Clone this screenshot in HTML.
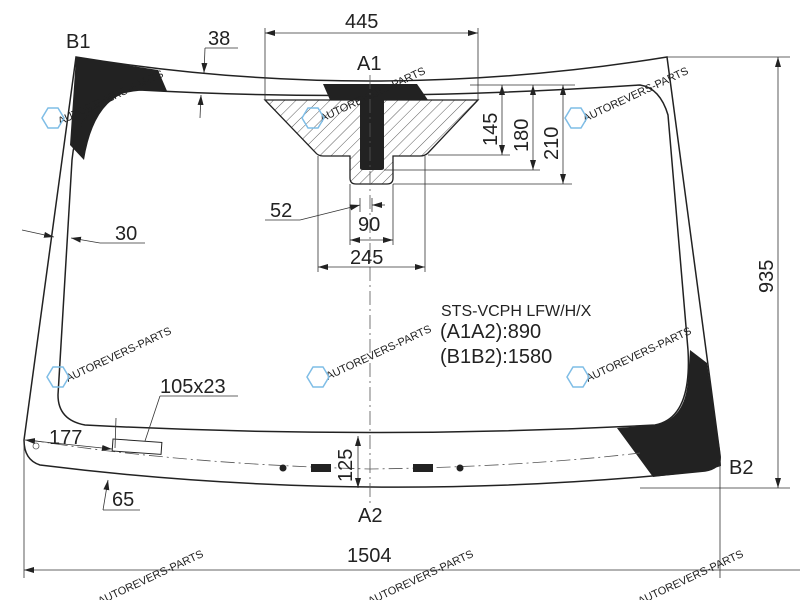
<!DOCTYPE html>
<html><head><meta charset="utf-8"><style>
html,body{margin:0;padding:0;background:#fff;width:800px;height:600px;overflow:hidden}
svg{display:block}
text{font-family:"Liberation Sans",sans-serif;fill:#222}
.wm{fill:#7fbde6;font-size:11px}
</style></head><body>
<svg width="800" height="600" viewBox="0 0 800 600" xmlns="http://www.w3.org/2000/svg">
<defs>
<pattern id="h" width="8" height="8" patternUnits="userSpaceOnUse" patternTransform="rotate(45)">
<line x1="0" y1="0" x2="0" y2="8" stroke="#333" stroke-width="0.8"/></pattern>
<marker id="a" markerWidth="10" markerHeight="6" refX="10" refY="3" orient="auto-start-reverse" markerUnits="userSpaceOnUse"><path d="M0,0 L10,3 L0,6 Z" fill="#222"/></marker>
</defs>
<g fill="none" stroke="#222" stroke-width="1.5">
<path d="M76,57 Q370,105 667,57 L720,455 Q722,468 705,471 Q370,506 40,465 Q24,460 24,440 Z" fill="#fff"/>
</g>
<path d="M76,57 L158,70 L167,91 L140,90 Q95,92 84,160 L70,145 Z" fill="#222"/>
<path d="M690,350 L707,363 L720,450 L721,466 L705,471 L653,477 L617,428 L655,425 Q685,420 688,380 Z" fill="#222"/>
<path d="M265,100 L478,100 L428,153 Q425,156 420,156 L393,156 L393,178 Q393,184 387,184 L356,184 Q350,184 350,178 L350,156 L323,156 Q318,156 315,152 Z" fill="url(#h)" stroke="#222" stroke-width="1.3"/>
<path d="M323,84 L417,84 L428,100 L384,100 L384,168 Q384,170 381,170 L363,170 Q360,170 360,168 L360,100 L330,100 Z" fill="#222"/>
<g fill="none" stroke="#222" stroke-width="1.5">
<path d="M140,90 Q370,103 640,85 Q660,88 668,115 L688,350 Q692,418 655,425 Q370,440 85,425 Q58,420 58,395 L72,160 Q78,95 140,90"/>
</g>
<path d="M30,440 Q180,464 370,469 Q520,467 640,453" fill="none" stroke="#555" stroke-width="0.8" stroke-dasharray="14,4,2,4"/>
<circle cx="36" cy="446" r="3" fill="#fff" stroke="#555" stroke-width="0.8"/>
<circle cx="283" cy="468" r="3.5" fill="#222"/><circle cx="460" cy="468" r="3.5" fill="#222"/>
<rect x="311" y="464" width="20" height="8" fill="#222"/><rect x="413" y="464" width="20" height="8" fill="#222"/>
<rect x="113" y="439" width="49" height="12" fill="#fff" stroke="#222" stroke-width="1" transform="rotate(4 113 439)"/>
<line x1="370" y1="75" x2="370" y2="505" stroke="#555" stroke-width="0.8" stroke-dasharray="14,4,2,4"/>
<g stroke="#333" stroke-width="0.8" fill="none">
<line x1="265" y1="28" x2="265" y2="100"/><line x1="478" y1="28" x2="478" y2="100"/>
<line x1="265" y1="33" x2="478" y2="33" marker-start="url(#a)" marker-end="url(#a)"/>
<line x1="470" y1="85" x2="575" y2="85"/>
<line x1="428" y1="155" x2="510" y2="155"/><line x1="384" y1="170" x2="540" y2="170"/><line x1="393" y1="184" x2="572" y2="184"/>
<line x1="502" y1="85" x2="502" y2="155" marker-start="url(#a)" marker-end="url(#a)"/>
<line x1="533" y1="85" x2="533" y2="170" marker-start="url(#a)" marker-end="url(#a)"/>
<line x1="563" y1="85" x2="563" y2="184" marker-start="url(#a)" marker-end="url(#a)"/>
<line x1="318" y1="156" x2="318" y2="272"/><line x1="425" y1="156" x2="425" y2="272"/>
<line x1="350" y1="184" x2="350" y2="245"/><line x1="393" y1="184" x2="393" y2="245"/>
<line x1="360" y1="198" x2="360" y2="212"/><line x1="372" y1="198" x2="372" y2="212"/>
<line x1="265" y1="220" x2="300" y2="220"/><line x1="300" y1="220" x2="360" y2="205" marker-end="url(#a)"/>
<line x1="385" y1="205" x2="372" y2="205" marker-end="url(#a)"/>
<line x1="350" y1="240" x2="393" y2="240" marker-start="url(#a)" marker-end="url(#a)"/>
<line x1="318" y1="267" x2="425" y2="267" marker-start="url(#a)" marker-end="url(#a)"/>
<line x1="205" y1="48" x2="238" y2="48"/><line x1="205" y1="48" x2="204" y2="73" marker-end="url(#a)"/>
<line x1="200" y1="118" x2="201" y2="95" marker-end="url(#a)"/>
<line x1="22" y1="230" x2="54" y2="237" marker-end="url(#a)"/>
<line x1="145" y1="243" x2="100" y2="243"/><line x1="100" y1="243" x2="71" y2="238" marker-end="url(#a)"/>
<line x1="667" y1="57" x2="790" y2="57"/><line x1="640" y1="488" x2="790" y2="488"/>
<line x1="778" y1="57" x2="778" y2="488" marker-start="url(#a)" marker-end="url(#a)"/>
<line x1="24" y1="445" x2="24" y2="578"/><line x1="720" y1="465" x2="720" y2="578"/>
<line x1="24" y1="570" x2="800" y2="570" marker-start="url(#a)"/>
<line x1="160" y1="396" x2="238" y2="396"/><line x1="160" y1="396" x2="145" y2="441"/>
<line x1="116" y1="418" x2="115" y2="448"/>
<line x1="25" y1="440" x2="112" y2="449" marker-start="url(#a)" marker-end="url(#a)"/>
<line x1="103" y1="510" x2="140" y2="510"/><line x1="103" y1="510" x2="108" y2="480" marker-end="url(#a)"/>
<line x1="358" y1="436" x2="358" y2="488" marker-start="url(#a)" marker-end="url(#a)"/>
</g>
<g font-size="20">
<text x="345" y="28">445</text>
<text x="357" y="70">A1</text>
<text x="358" y="522">A2</text>
<text x="66" y="48">B1</text>
<text x="729" y="474">B2</text>
<text x="208" y="45">38</text>
<text x="115" y="240">30</text>
<text x="270" y="217">52</text>
<text x="358" y="231">90</text>
<text x="350" y="264">245</text>
<text x="160" y="393">105x23</text>
<text x="49" y="444">177</text>
<text x="112" y="506">65</text>
<text x="347" y="562">1504</text>
<text transform="translate(497,146) rotate(-90)">145</text>
<text transform="translate(528,152) rotate(-90)">180</text>
<text transform="translate(558,160) rotate(-90)">210</text>
<text transform="translate(773,293) rotate(-90)">935</text>
<text transform="translate(352,482) rotate(-90)">125</text>
<text x="440" y="338">(A1A2):890</text>
<text x="440" y="363">(B1B2):1580</text>
</g>
<text x="441" y="316" font-size="16">STS-VCPH LFW/H/X</text>
<g class="wm">
<text transform="translate(60,125) rotate(-25)">AUTOREVERS-PARTS</text>
<text transform="translate(322,122) rotate(-25)">AUTOREVERS-PARTS</text>
<text transform="translate(585,122) rotate(-25)">AUTOREVERS-PARTS</text>
<text transform="translate(68,382) rotate(-25)">AUTOREVERS-PARTS</text>
<text transform="translate(328,380) rotate(-25)">AUTOREVERS-PARTS</text>
<text transform="translate(588,382) rotate(-25)">AUTOREVERS-PARTS</text>
<text transform="translate(100,605) rotate(-25)">AUTOREVERS-PARTS</text>
<text transform="translate(370,605) rotate(-25)">AUTOREVERS-PARTS</text>
<text transform="translate(640,605) rotate(-25)">AUTOREVERS-PARTS</text>
</g>
<g fill="none" stroke="#7fbde6" stroke-width="1.5">
<polygon points="42,118 48,108 58,108 64,118 58,128 48,128"/>
<polygon points="302,118 308,108 318,108 324,118 318,128 308,128"/>
<polygon points="565,118 571,108 581,108 587,118 581,128 571,128"/>
<polygon points="47,377 53,367 63,367 69,377 63,387 53,387"/>
<polygon points="307,377 313,367 323,367 329,377 323,387 313,387"/>
<polygon points="567,377 573,367 583,367 589,377 583,387 573,387"/>
</g>
</svg>
</body></html>
